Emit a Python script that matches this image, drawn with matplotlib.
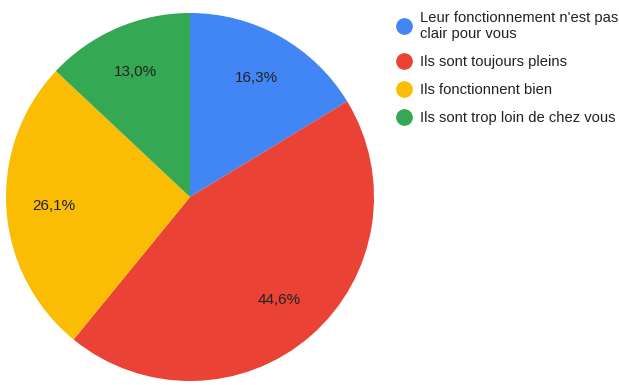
import matplotlib
matplotlib.use("Agg")
import matplotlib.pyplot as plt
from matplotlib.lines import Line2D

plt.rcParams['font.family'] = ['Liberation Sans', 'DejaVu Sans']

labels = ["Leur fonctionnement n'est pas\nclair pour vous",
          "Ils sont toujours pleins",
          "Ils fonctionnent bien",
          "Ils sont trop loin de chez vous"]
values = [16.3, 44.6, 26.1, 13.0]
colors = ["#4285F4", "#EA4335", "#FBBC04", "#34A853"]

fig = plt.figure(figsize=(6.19, 3.85), dpi=100)
W, H = 619, 385
# pie area in pixels: x 7..373, y 12..380
ax = fig.add_axes([6 / W, (H - 381) / H, 368 / W, 368 / H])

wedges, texts, autotexts = ax.pie(
    values, colors=colors, startangle=90, counterclock=False,
    autopct=lambda p: f"{p:.1f}".replace(".", ",") + "%",
    pctdistance=0.74, textprops=dict(fontsize=11, color="#222222"),
    wedgeprops=dict(linewidth=0))
ax.set_aspect("equal")
ax.set_xlim(-1, 1)
ax.set_ylim(-1, 1)
ax.axis("off")

handles = [Line2D([0], [0], marker="o", linestyle="", markersize=11,
                  markerfacecolor=c, markeredgecolor=c) for c in colors]
fig.legend(handles, labels, loc="upper left",
           bbox_to_anchor=(391 / W, 1 - 5 / H), frameon=False,
           fontsize=10.6, labelcolor="#222222", handletextpad=0.55,
           labelspacing=0.95, handlelength=1.0, borderaxespad=0)

fig.savefig("out.png", dpi=100)
